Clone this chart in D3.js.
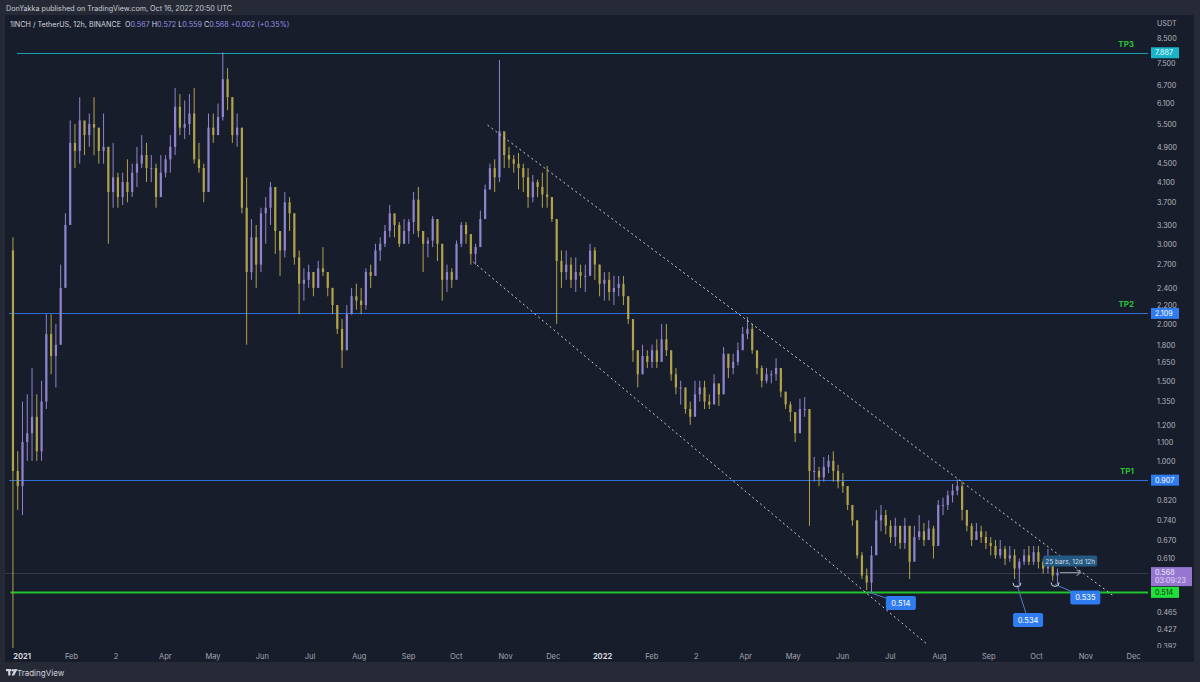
<!DOCTYPE html>
<html lang="en">
<head>
<meta charset="UTF-8" />
<title>1INCH / TetherUS, 12h</title>
<style>
  body { margin: 0; background: #262a36; }
  svg { display: block; font-family: Inter, "Noto Sans", sans-serif; }
</style>
</head>
<body>
<svg id="chart" width="1200" height="682"></svg>
<script src="https://d3js.org/d3.v7.min.js"></script>
<script>
// bars are 3-day candles, first one starts Dec 25 2020
const firstBar = new Date(Date.UTC(2020, 11, 25));
const barDays = 3;
const firstOpen = 2.9;

const closes = [
  0.95, 0.88, 1.1, 1.15, 1.25, 1.05, 1.35, 1.9, 1.7, 1.8,
  2.4, 3.3, 5.0, 4.8, 5.6, 5.2, 5.5, 5.4, 4.8, 4.9,
  3.9, 4.2, 3.8, 4.1, 3.9, 4.3, 4.5, 4.7, 4.4, 4.4,
  3.8, 4.3, 4.6, 4.9, 6.0, 5.4, 5.5, 5.8, 4.6, 4.4,
  3.9, 5.4, 5.2, 5.7, 6.9, 6.3, 5.2, 5.4, 3.6, 2.6,
  3.1, 2.7, 3.5, 3.6, 4.0, 3.2, 2.9, 3.7, 3.5, 2.8,
  2.45, 2.5, 2.6, 2.4, 2.65, 2.6, 2.4, 2.2, 1.95, 1.75,
  2.1, 2.3, 2.25, 2.2, 2.6, 2.55, 2.9, 3.0, 3.2, 3.5,
  3.3, 3.0, 3.2, 3.35, 3.75, 3.2, 3.0, 3.05, 3.4, 3.0,
  2.5, 2.6, 2.5, 3.0, 3.3, 3.15, 2.85, 2.95, 3.4, 3.95,
  4.4, 4.2, 5.3, 4.7, 4.6, 4.5, 4.4, 4.2, 3.8, 4.1,
  4.0, 3.85, 3.8, 3.4, 2.75, 2.6, 2.7, 2.5, 2.6, 2.55,
  2.55, 2.9, 2.7, 2.45, 2.5, 2.35, 2.4, 2.45, 2.3, 2.05,
  1.75, 1.55, 1.7, 1.65, 1.75, 1.65, 1.85, 1.75, 1.55, 1.45,
  1.45, 1.3, 1.25, 1.4, 1.45, 1.35, 1.33, 1.48, 1.4, 1.72,
  1.6, 1.65, 1.75, 1.9, 1.95, 1.75, 1.6, 1.5, 1.55, 1.55,
  1.6, 1.42, 1.33, 1.28, 1.15, 1.3, 1.3, 0.95, 0.95, 0.92,
  0.97, 1.0, 0.95, 0.9, 0.88, 0.8, 0.74, 0.62, 0.56, 0.54,
  0.62, 0.74, 0.76, 0.72, 0.68, 0.72, 0.66, 0.72, 0.6, 0.68,
  0.7, 0.67, 0.71, 0.65, 0.8, 0.8, 0.84, 0.86, 0.88, 0.78,
  0.72, 0.67, 0.7, 0.68, 0.66, 0.65, 0.62, 0.64, 0.61, 0.62,
  0.58, 0.6, 0.62, 0.6, 0.63, 0.6, 0.58, 0.6, 0.56, 0.568
];
const highs = [
  3.1, 1.05, 1.35, 1.4, 1.6, 1.4, 1.5, 2.1, 2.1, 2.0,
  2.7, 3.5, 5.6, 5.5, 6.3, 5.5, 5.8, 6.3, 5.3, 5.8,
  4.9, 5.0, 4.3, 4.3, 4.6, 4.5, 4.9, 5.2, 5.0, 4.7,
  4.5, 4.7, 4.7, 5.2, 6.6, 6.4, 6.2, 6.4, 6.6, 5.0,
  4.5, 5.8, 5.8, 6.1, 7.9, 7.3, 6.3, 5.8, 5.2, 4.2,
  3.4, 3.3, 3.6, 3.8, 4.1, 3.6, 3.1, 3.9, 3.8, 3.5,
  2.9, 2.65, 2.7, 2.6, 2.75, 2.95, 2.6, 2.4, 2.2, 2.05,
  2.2, 2.4, 2.45, 2.4, 2.65, 2.7, 3.0, 3.1, 3.3, 3.65,
  3.45, 3.35, 3.4, 3.4, 3.9, 4.0, 3.2, 3.1, 3.45, 3.3,
  2.8, 2.7, 2.65, 3.05, 3.35, 3.35, 3.15, 3.0, 3.55, 4.05,
  4.5, 4.6, 7.6, 5.1, 4.9, 4.7, 4.75, 4.5, 4.4, 4.25,
  4.15, 4.3, 4.45, 3.8, 3.4, 2.9, 2.9, 2.8, 2.8, 2.7,
  2.7, 3.0, 2.95, 2.7, 2.6, 2.6, 2.55, 2.55, 2.55, 2.3,
  2.05, 1.75, 1.8, 1.75, 1.8, 1.85, 2.0, 2.0, 1.7, 1.6,
  1.5, 1.4, 1.35, 1.5, 1.5, 1.5, 1.4, 1.55, 1.45, 1.78,
  1.7, 1.72, 1.82, 1.97, 2.07, 2.0, 1.7, 1.62, 1.6, 1.58,
  1.68, 1.55, 1.4, 1.35, 1.25, 1.37, 1.38, 1.3, 1.02, 0.97,
  1.02, 1.03, 1.05, 0.98, 0.94, 0.87, 0.79, 0.74, 0.63, 0.58,
  0.65, 0.78, 0.8, 0.78, 0.74, 0.75, 0.71, 0.75, 0.68, 0.72,
  0.76, 0.73, 0.74, 0.72, 0.82, 0.83, 0.86, 0.89, 0.91, 0.9,
  0.78, 0.73, 0.73, 0.72, 0.7, 0.68, 0.67, 0.67, 0.65, 0.65,
  0.64, 0.61, 0.64, 0.65, 0.65, 0.65, 0.61, 0.64, 0.6, 0.58
];
const lows = [
  0.3, 0.78, 0.76, 1.0, 1.0, 1.0, 1.0, 1.3, 1.55, 1.45,
  1.8, 2.5, 3.4, 4.4, 4.5, 4.7, 4.9, 4.7, 4.5, 4.5,
  3.0, 3.6, 3.6, 3.65, 3.7, 3.8, 4.0, 4.4, 4.1, 4.1,
  3.6, 3.9, 4.2, 4.3, 4.7, 5.2, 5.1, 5.2, 4.5, 4.3,
  3.7, 4.3, 5.0, 5.2, 5.6, 5.9, 5.0, 4.9, 3.5, 1.8,
  2.5, 2.4, 2.6, 3.0, 3.3, 2.85, 2.55, 2.8, 3.2, 2.7,
  2.1, 2.25, 2.4, 2.3, 2.4, 2.55, 2.3, 2.1, 1.9, 1.6,
  1.9, 2.1, 2.15, 2.1, 2.15, 2.4, 2.6, 2.75, 2.95, 3.1,
  3.1, 2.95, 3.05, 3.0, 3.15, 3.1, 2.6, 2.8, 2.95, 2.75,
  2.25, 2.35, 2.4, 2.6, 2.95, 3.0, 2.7, 2.7, 3.1, 3.5,
  3.95, 3.9, 4.1, 4.4, 4.4, 4.3, 3.95, 3.9, 3.6, 3.7,
  3.8, 3.6, 3.6, 3.35, 2.0, 2.4, 2.5, 2.4, 2.35, 2.4,
  2.35, 2.6, 2.5, 2.3, 2.25, 2.25, 2.2, 2.3, 2.2, 2.0,
  1.65, 1.45, 1.55, 1.6, 1.6, 1.6, 1.7, 1.7, 1.5, 1.4,
  1.33, 1.27, 1.2, 1.3, 1.35, 1.3, 1.3, 1.35, 1.32, 1.43,
  1.52, 1.55, 1.62, 1.78, 1.85, 1.72, 1.55, 1.45, 1.48, 1.48,
  1.5, 1.38, 1.3, 1.22, 1.1, 1.18, 1.25, 0.72, 0.9, 0.88,
  0.9, 0.94, 0.9, 0.87, 0.85, 0.78, 0.72, 0.61, 0.55, 0.52,
  0.514, 0.64, 0.7, 0.69, 0.66, 0.65, 0.64, 0.64, 0.55, 0.62,
  0.67, 0.65, 0.67, 0.61, 0.7, 0.76, 0.78, 0.81, 0.84, 0.74,
  0.7, 0.65, 0.67, 0.66, 0.64, 0.62, 0.61, 0.61, 0.59, 0.6,
  0.55, 0.534, 0.59, 0.59, 0.59, 0.58, 0.565, 0.565, 0.545, 0.535
];

const priceTicks = [8.5, 7.5, 6.7, 6.1, 5.5, 4.9, 4.5, 4.1, 3.7, 3.3, 3.0, 2.7, 2.4, 2.2, 2.0,
  1.8, 1.65, 1.5, 1.35, 1.2, 1.1, 1.0, 0.82, 0.74, 0.67, 0.61, 0.465, 0.427, 0.392];
const timeTicks = ["2021-01-01", "2021-02-01", "2021-03-01", "2021-04-01", "2021-05-01", "2021-06-01",
  "2021-07-01", "2021-08-01", "2021-09-01", "2021-10-01", "2021-11-01", "2021-12-01",
  "2022-01-01", "2022-02-01", "2022-03-01", "2022-04-01", "2022-05-01", "2022-06-01",
  "2022-07-01", "2022-08-01", "2022-09-01", "2022-10-01", "2022-11-01", "2022-12-01"];
const timeLabels = ["2021", "Feb", "2", "Apr", "May", "Jun", "Jul", "Aug", "Sep", "Oct", "Nov", "Dec",
  "2022", "Feb", "2", "Apr", "May", "Jun", "Jul", "Aug", "Sep", "Oct", "Nov", "Dec"];

// horizontal levels (name, price, start date)
const levelNames = ["TP3", "TP2", "TP1", "support"];
const levelPrices = [7.887, 2.109, 0.907, 0.514];
const levelStarts = ["2020-12-29", "2020-12-24", "2020-12-24", "2020-12-25"];

// channel trendlines: [start date, start price, end date, end price]
const upperChannel = ["2021-10-21", 5.47, "2022-11-18", 0.507];
const lowerChannel = ["2021-10-12", 2.736, "2022-07-25", 0.394];

// price callouts: anchor date, low price, label-box date, label-box price
const calloutLabels = ["0.514", "0.534", "0.535"];
const calloutAnchorDates = ["2022-06-18", "2022-09-19", "2022-10-13"];
const calloutAnchorPrices = [0.514, 0.534, 0.535];
const calloutBoxDates = ["2022-07-08", "2022-09-26", "2022-11-01"];
const calloutBoxPrices = [0.487, 0.447, 0.501];

const lastPrice = 0.568;
const countdown = "03:09:23";

const svg = d3.select("#chart");
const W = 1200, H = 682;
const pane = { left: 5, top: 15, right: 1194, bottom: 662 };
const plot = { left: 5, top: 15, right: 1148, bottom: 648 };

const parse = d3.utcParse("%Y-%m-%d");
const x = d3.scaleUtc()
  .domain([parse("2021-01-01"), parse("2022-12-01")])
  .range([21.7, 1133]);
const y = d3.scaleLog()
  .domain([0.392, 8.5])
  .range([645.9, 38]);
// snap 1px horizontal lines to the pixel grid
const crisp = v => Math.round(v) + 0.5;

const upColor = "#9184cf", downColor = "#b0a34b";
const fmt = d3.format(".3f");

svg.append("rect").attr("width", W).attr("height", H).attr("fill", "#262a36");
svg.append("rect")
  .attr("x", pane.left).attr("y", pane.top)
  .attr("width", pane.right - pane.left).attr("height", pane.bottom - pane.top)
  .attr("fill", "#181d2b");

svg.append("text")
  .attr("x", 6).attr("y", 10.5)
  .attr("font-size", 7.2).attr("fill", "#c9ccd4")
  .text("DonYakka published on TradingView.com, Oct 16, 2022 20:50 UTC");

const defs = svg.append("defs");
defs.append("clipPath").attr("id", "plotClip")
  .append("rect")
  .attr("x", plot.left).attr("y", plot.top)
  .attr("width", plot.right - plot.left).attr("height", plot.bottom - plot.top);
defs.append("clipPath").attr("id", "axisClip")
  .append("rect")
  .attr("x", plot.right).attr("y", plot.top)
  .attr("width", pane.right - plot.right).attr("height", plot.bottom - plot.top);

const g = svg.append("g").attr("clip-path", "url(#plotClip)");

// last price line
g.append("line")
  .attr("x1", plot.left).attr("x2", plot.right)
  .attr("y1", crisp(y(lastPrice))).attr("y2", crisp(y(lastPrice)))
  .attr("stroke", "#363b4a").attr("stroke-width", 1);

// level lines
const levelColor = { TP3: "#1a9fb0", TP2: "#2f6fd8", TP1: "#2f6fd8", support: "#1fc42b" };
levelNames.forEach((name, i) => {
  const ly = crisp(y(levelPrices[i]));
  g.append("line")
    .attr("x1", x(parse(levelStarts[i]))).attr("x2", plot.right)
    .attr("y1", ly).attr("y2", ly)
    .attr("stroke", levelColor[name])
    .attr("stroke-width", name === "support" ? 2 : 1.2);
});

// candles
const bars = closes.map((c, i) => ({
  t: d3.utcHour.offset(firstBar, i * barDays * 24 + barDays * 12),
  open: i === 0 ? firstOpen : closes[i - 1],
  high: highs[i], low: lows[i], close: c
}));
const bodyW = 2.2;
const candle = g.append("g").selectAll("g").data(bars).join("g")
  .attr("stroke", d => d.close >= d.open ? upColor : downColor)
  .attr("fill", d => d.close >= d.open ? upColor : downColor);
candle.append("line")
  .attr("x1", d => x(d.t)).attr("x2", d => x(d.t))
  .attr("y1", d => y(d.high)).attr("y2", d => y(d.low))
  .attr("stroke-width", 1);
candle.append("rect")
  .attr("stroke", "none")
  .attr("x", d => x(d.t) - bodyW / 2)
  .attr("width", bodyW)
  .attr("y", d => y(Math.max(d.open, d.close)))
  .attr("height", d => Math.max(1, Math.abs(y(d.open) - y(d.close))));

// channel
[upperChannel, lowerChannel].forEach(c => {
  g.append("line")
    .attr("x1", x(parse(c[0]))).attr("y1", y(c[1]))
    .attr("x2", x(parse(c[2]))).attr("y2", y(c[3]))
    .attr("stroke", "#c9ccd4").attr("stroke-width", 1)
    .attr("stroke-dasharray", "2,3");
});

// callouts
calloutLabels.forEach((lab, i) => {
  const ax = x(parse(calloutAnchorDates[i])), ay = y(calloutAnchorPrices[i]);
  const bx = x(parse(calloutBoxDates[i])), by = y(calloutBoxPrices[i]);
  g.append("line")
    .attr("x1", ax).attr("y1", ay).attr("x2", bx).attr("y2", by)
    .attr("stroke", "#4f7cc4").attr("stroke-width", 1);
  if (i > 0) {
    g.append("path")
      .attr("d", `M${ax - 4},${ay - 2} A4,4 0 0 0 ${ax + 4},${ay - 2}`)
      .attr("fill", "none").attr("stroke", "#d1d4dc").attr("stroke-width", 1);
  }
  g.append("rect")
    .attr("x", bx - 15).attr("y", by - 7).attr("width", 30).attr("height", 14)
    .attr("rx", 2).attr("fill", "#2f7cf0");
  g.append("text")
    .attr("x", bx).attr("y", by + 3)
    .attr("text-anchor", "middle").attr("font-size", 7.5).attr("fill", "#fff")
    .text(lab);
});

// date range measure
const rangeStart = parse("2022-10-16"), rangeEnd = parse("2022-10-29");
const ry = y(lastPrice);
g.append("line")
  .attr("x1", x(rangeStart)).attr("x2", x(rangeEnd))
  .attr("y1", ry).attr("y2", ry)
  .attr("stroke", "#8a8e99").attr("stroke-width", 1.2);
g.append("path")
  .attr("d", `M${x(rangeEnd) - 4},${ry - 3} L${x(rangeEnd)},${ry} L${x(rangeEnd) - 4},${ry + 3}`)
  .attr("fill", "none").attr("stroke", "#8a8e99").attr("stroke-width", 1.2);
const mx = (x(rangeStart) + x(rangeEnd)) / 2;
g.append("rect")
  .attr("x", mx - 27).attr("y", ry - 17).attr("width", 54).attr("height", 11)
  .attr("rx", 2).attr("fill", "#245a82");
g.append("text")
  .attr("x", mx).attr("y", ry - 9)
  .attr("text-anchor", "middle").attr("font-size", 6.5).attr("fill", "#d6dbe4")
  .text("25 bars, 12d 12h");

// TP labels
levelNames.forEach((name, i) => {
  if (name === "support") return;
  svg.append("text")
    .attr("x", 1134).attr("y", y(levelPrices[i]) - 6)
    .attr("text-anchor", "end")
    .attr("font-size", 8).attr("font-weight", "bold").attr("fill", "#27c23a")
    .text(name);
});

// price axis
const yAxis = svg.append("g").attr("clip-path", "url(#axisClip)")
  .append("g")
  .attr("transform", `translate(${1151},0)`)
  .call(d3.axisRight(y).tickValues(priceTicks).tickSize(0).tickPadding(6).tickFormat(fmt));
yAxis.select(".domain").remove();
yAxis.selectAll("text").attr("fill", "#b2b5be").attr("font-size", 7.2).attr("font-family", "Inter, sans-serif");
svg.append("text")
  .attr("x", 1157).attr("y", 25.5)
  .attr("font-size", 7.2).attr("fill", "#b2b5be").text("USDT");

const boxColor = { TP3: "#1ab4c8", TP2: "#2f7cf0", TP1: "#2f7cf0", support: "#22e03a" };
const boxText = { TP3: "#e8fbff", TP2: "#ffffff", TP1: "#ffffff", support: "#0c2a10" };
levelNames.forEach((name, i) => {
  const py = y(levelPrices[i]);
  svg.append("rect")
    .attr("x", 1151).attr("y", py - 5.5).attr("width", 28).attr("height", 11)
    .attr("fill", boxColor[name]);
  svg.append("text")
    .attr("x", 1155).attr("y", py + 2.6)
    .attr("font-size", 7.2).attr("fill", boxText[name])
    .text(fmt(levelPrices[i]));
});
const lp = y(lastPrice);
svg.append("rect")
  .attr("x", 1151).attr("y", lp - 5.5).attr("width", 41).attr("height", 19)
  .attr("fill", "#9577d0");
svg.append("text")
  .attr("x", 1155).attr("y", lp + 2.6)
  .attr("font-size", 7.2).attr("fill", "#f2ecff")
  .text(fmt(lastPrice));
svg.append("text")
  .attr("x", 1155).attr("y", lp + 10.5)
  .attr("font-size", 7.2).attr("fill", "#e2d8f8")
  .text(countdown);

// time axis
const xAxis = svg.append("g")
  .attr("transform", `translate(0,${plot.bottom})`)
  .call(d3.axisBottom(x).tickValues(timeTicks.map(parse)).tickSize(0).tickPadding(6)
    .tickFormat((d, i) => timeLabels[i]));
xAxis.select(".domain").remove();
xAxis.selectAll("text")
  .attr("fill", (d, i) => timeLabels[i].length === 4 ? "#d1d4dc" : "#a3a6af")
  .attr("font-weight", (d, i) => timeLabels[i].length === 4 ? "bold" : "normal")
  .attr("font-size", 7.5).attr("font-family", "Inter, sans-serif");

// legend
const legend = svg.append("text").attr("x", 10).attr("y", 26.5)
  .attr("font-size", 7.2).attr("xml:space", "preserve");
const legendParts = [
  ["1INCH / TetherUS, 12h, BINANCE  O", "#d1d4dc"], ["0.567", "#9c8fe2"],
  [" H", "#d1d4dc"], ["0.572", "#9c8fe2"],
  [" L", "#d1d4dc"], ["0.559", "#9c8fe2"],
  [" C", "#d1d4dc"], ["0.568", "#9c8fe2"],
  [" +0.002 (+0.35%)", "#9c8fe2"]
];
legendParts.forEach(p => legend.append("tspan").attr("fill", p[1]).text(p[0]));

// footer
const logo = svg.append("g").attr("transform", "translate(6,669)").attr("fill", "#d1d4dc");
logo.append("rect").attr("x", 0).attr("y", 0).attr("width", 5).attr("height", 2.2);
logo.append("rect").attr("x", 2.2).attr("y", 0).attr("width", 2.2).attr("height", 6.5);
logo.append("circle").attr("cx", 6.8).attr("cy", 1.3).attr("r", 1.3);
logo.append("path").attr("d", "M8.6,0 L11.5,0 L8.2,6.5 L5.6,6.5 Z");
svg.append("text")
  .attr("x", 17).attr("y", 675.5)
  .attr("font-size", 8).attr("fill", "#d1d4dc")
  .text("TradingView");
</script>
</body>
</html>
